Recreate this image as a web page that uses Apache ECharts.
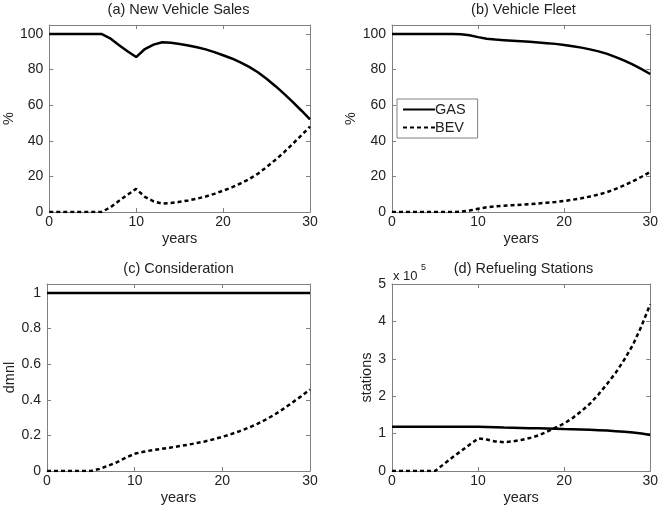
<!DOCTYPE html>
<html><head><meta charset="utf-8">
<script src="https://cdn.jsdelivr.net/npm/echarts@6/dist/echarts.min.js"></script>
<style>html,body{margin:0;padding:0;background:#fff}#c{width:661px;height:513px}</style>
</head><body><div id="c"></div>
<script>
const years = [0,1,2,3,4,5,6,7,8,9,10,11,12,13,14,15,16,17,18,19,20,21,22,23,24,25,26,27,28,29,30];
const xTicks = [0,10,20,30];
// (a) New Vehicle Sales, %
const salesGas = [100,100,100,100,100,100,100,97.5,93.8,90.3,87,91.5,94,95.3,95,94.3,93.5,92.5,91.3,89.8,88,86.2,84,81.5,78.5,74.8,70.8,66.5,61.8,57,52];
const salesBev = [0,0,0,0,0,0,0,2.5,6.2,9.7,13,8.5,6,4.7,5,5.7,6.5,7.5,8.7,10.2,12,13.8,16,18.5,21.5,25.2,29.2,33.5,38.2,43,48];
// (b) Vehicle Fleet, %
const fleetGas = [100,100,100,100,100,100,100,100,99.8,99.2,98.2,97.3,96.8,96.5,96.2,95.9,95.6,95.2,94.8,94.4,93.8,93.1,92.3,91.3,90.2,88.8,87,85,82.7,80.2,77.5];
const fleetBev = [0,0,0,0,0,0,0,0,0.2,0.8,1.8,2.7,3.2,3.5,3.8,4.1,4.4,4.8,5.2,5.6,6.2,6.9,7.7,8.7,9.8,11.2,13,15,17.3,19.8,22.5];
// (c) Consideration, dmnl
const considGas = [1,1,1,1,1,1,1,1,1,1,1,1,1,1,1,1,1,1,1,1,1,1,1,1,1,1,1,1,1,1,1];
const considBev = [0,0,0,0,0,0,0.012,0.03,0.05,0.075,0.097,0.108,0.117,0.124,0.131,0.139,0.147,0.156,0.166,0.178,0.192,0.207,0.224,0.243,0.265,0.29,0.318,0.35,0.385,0.42,0.458];
// (d) Refueling Stations, stations
const stationsGas = [118000,118000,118000,118000,118000,118000,118000,118000,118000,118000,118000,117500,117000,116000,115500,115000,114500,114000,113500,113000,112000,111500,111000,110000,109000,108000,106500,105000,103000,100000,96000];
const stationsBev = [0,0,0,0,0,0,18000,36000,53000,70000,87000,84000,79000,77000,79000,83000,88000,95000,105000,116000,127000,142000,160000,180000,205000,233000,263000,298000,338000,388000,446000];
const seriesNames = ['GAS','BEV'];
const titles = ['(a) New Vehicle Sales','(b) Vehicle Fleet','(c) Consideration','(d) Refueling Stations'];
const yNames = ['%','%','dmnl','stations'];

const FONT = 'Liberation Sans, Arial, Helvetica, sans-serif';
const TXT = '#222';
const AXC = '#808080';
const grids = [
  {left:47, top:25, width:263, height:187},
  {left:392, top:25, width:263, height:187},
  {left:47, top:284, width:263, height:187},
  {left:392, top:284, width:263, height:187}
];
const yCfg = [
  {max:105, interval:20, gap:31, fmt: v => String(v)},
  {max:105, interval:20, gap:31, fmt: v => String(v)},
  {max:1.05, interval:0.2, gap:25, fmt: v => String(+v.toFixed(1))},
  {max:500000, interval:100000, gap:13, fmt: v => String(Math.round(v/100000))}
];
const lineAx = {show:true, onZero:false, lineStyle:{color:AXC, width:1}};
const tickIn = {show:true, inside:true, length:4, lineStyle:{color:AXC, width:1}};
const xAxis = [], yAxis = [], series = [], graphic = [];
grids.forEach((g, i) => {
  xAxis.push({type:'value', gridIndex:i, position:'bottom', min:xTicks[0], max:xTicks[xTicks.length-1], interval:xTicks[1]-xTicks[0],
    axisLine:lineAx, axisTick:tickIn, splitLine:{show:false},
    axisLabel:{fontSize:14, color:TXT, fontFamily:FONT, margin:3, alignMaxLabel:'center', alignMinLabel:'center'},
    name:'years', nameLocation:'middle', nameGap:19, nameTextStyle:{fontSize:14.5, color:TXT, fontFamily:FONT}});
  xAxis.push({type:'value', gridIndex:i, position:'top', min:xTicks[0], max:xTicks[xTicks.length-1], interval:xTicks[1]-xTicks[0],
    axisLine:lineAx, axisTick:tickIn, splitLine:{show:false}, axisLabel:{show:false}});
  const c = yCfg[i];
  yAxis.push({type:'value', gridIndex:i, position:'left', min:0, max:c.max, interval:c.interval,
    axisLine:lineAx, axisTick:tickIn, splitLine:{show:false},
    axisLabel:{fontSize:14, color:TXT, fontFamily:FONT, margin:6, showMaxLabel: i===3, formatter:c.fmt},
    name:yNames[i], nameLocation:'middle', nameGap:c.gap, nameTextStyle:{fontSize:14.5, color:TXT, fontFamily:FONT}});
  yAxis.push({type:'value', gridIndex:i, position:'right', min:0, max:c.max, interval:c.interval,
    axisLine:lineAx, axisTick:tickIn, splitLine:{show:false}, axisLabel:{show:false}});
  graphic.push({type:'text', x:g.left + g.width/2, y:g.top - 15,
    style:{text:titles[i], fill:TXT, font:'14.5px ' + FONT, textAlign:'center', textVerticalAlign:'middle'}});
});
graphic.push({type:'text', x:393, y:276, style:{text:'x 10', fill:TXT, font:'13px ' + FONT, textAlign:'left', textVerticalAlign:'middle'}});
graphic.push({type:'text', x:421, y:268, style:{text:'5', fill:TXT, font:'9px ' + FONT, textAlign:'left', textVerticalAlign:'middle'}});

const panels = [[salesGas, salesBev],[fleetGas, fleetBev],[considGas, considBev],[stationsGas, stationsBev]];
panels.forEach((p, i) => {
  p.forEach((arr, k) => {
    series.push({type:'line', name:seriesNames[k], xAxisIndex:2*i, yAxisIndex:2*i,
      data: years.map((x, j) => [x, arr[j]]), symbol:'none', showSymbol:false, smooth:false, silent:true,
      lineStyle:{color:'#000', width:2.5, type: k === 0 ? 'solid' : [4,3]}, itemStyle:{color:'#000'},
      z: k === 0 ? 3 : 2});
  });
});

const chart = echarts.init(document.getElementById('c'), null, {renderer:'canvas'});
chart.setOption({
  animation:false,
  backgroundColor:'#fff',
  grid: grids,
  xAxis, yAxis, series, graphic,
  legend:{data:seriesNames, orient:'vertical', left:397, top:99, z:10,
    backgroundColor:'#fff', borderColor:AXC, borderWidth:1, borderRadius:0,
    padding:[3,12,3,5], itemGap:3, itemWidth:32, itemHeight:14,
    itemStyle:{opacity:0, borderWidth:0},
    textStyle:{fontSize:14.5, color:TXT, fontFamily:FONT, padding:[0,0,0,-5]}, selectedMode:false}
});
</script></body></html>
